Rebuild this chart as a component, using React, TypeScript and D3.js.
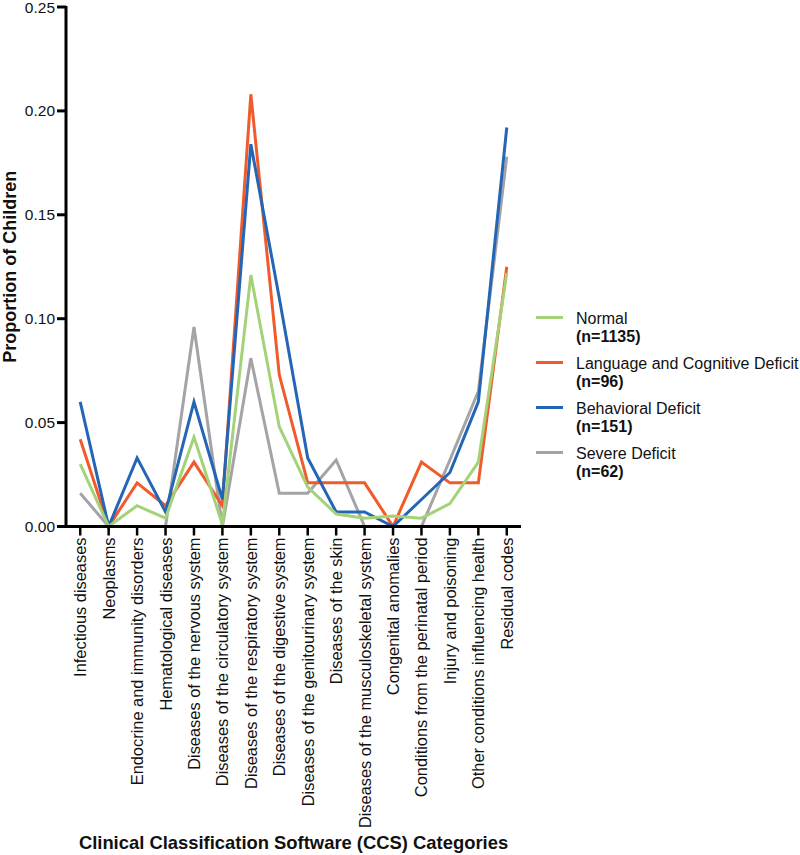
import React from "react";
import * as d3 from "d3";

const categories = [
  "Infectious diseases",
  "Neoplasms",
  "Endocrine and immunity disorders",
  "Hematological diseases",
  "Diseases of the nervous system",
  "Diseases of the circulatory system",
  "Diseases of the respiratory system",
  "Diseases of the digestive system",
  "Diseases of the genitourinary system",
  "Diseases of the skin",
  "Diseases of the musculoskeletal system",
  "Congenital anomalies",
  "Conditions from the perinatal period",
  "Injury and poisoning",
  "Other conditions influencing health",
  "Residual codes",
];

const normal = [0.030, 0.0, 0.010, 0.004, 0.043, 0.001, 0.121, 0.048, 0.019, 0.006, 0.004, 0.005, 0.004, 0.011, 0.031, 0.122];
const language = [0.042, 0.0, 0.021, 0.010, 0.031, 0.010, 0.208, 0.073, 0.021, 0.021, 0.021, 0.0, 0.031, 0.021, 0.021, 0.125];
const behavioral = [0.060, 0.0, 0.033, 0.007, 0.060, 0.013, 0.184, 0.110, 0.033, 0.007, 0.007, 0.0, 0.013, 0.026, 0.060, 0.192];
const severe = [0.016, 0.0, 0.0, 0.0, 0.096, 0.0, 0.081, 0.016, 0.016, 0.032, 0.0, 0.0, 0.0, 0.032, 0.065, 0.178];

const yTicks = [0, 0.05, 0.1, 0.15, 0.2, 0.25];

const seriesNames = ["Normal", "Language and Cognitive Deficit", "Behavioral Deficit", "Severe Deficit"];
const seriesCounts = ["(n=1135)", "(n=96)", "(n=151)", "(n=62)"];
const seriesValues = [normal, language, behavioral, severe];
const seriesColors = ["#a4d279", "#f15a2b", "#2465b6", "#a3a3a8"];
const drawOrder = [3, 1, 2, 0];

const FONT = "'Liberation Sans', Arial, sans-serif";

export default function App() {
  const W = 800;
  const H = 855;
  const x0 = 66;
  const x1 = 521;
  const yBottom = 526.5;
  const yTop = 7;

  const x = d3.scalePoint<string>().domain(categories).range([x0, x1]).padding(0.5);
  const y = d3.scaleLinear().domain([0, 0.25]).range([yBottom, yTop]);

  const line = d3
    .line<number>()
    .x((_, i) => x(categories[i]) as number)
    .y((d) => y(d));

  return (
    <svg
      width={W}
      height={H}
      style={{ position: "absolute", left: 0, top: 0, background: "#fff" }}
      fontFamily={FONT}
    >
      <rect x={0} y={0} width={W} height={H} fill="#fff" />
      {drawOrder.map((si) => (
        <path
          key={si}
          d={line(seriesValues[si]) || ""}
          fill="none"
          stroke={seriesColors[si]}
          strokeWidth={3}
          strokeLinejoin="miter"
        />
      ))}

      <line x1={x0} x2={x0} y1={yTop - 1} y2={yBottom + 1.5} stroke="#000" strokeWidth={3} />
      {yTicks.map((t) => (
        <g key={t}>
          <line x1={x0 - 9} x2={x0} y1={y(t)} y2={y(t)} stroke="#000" strokeWidth={3} />
          <text
            x={x0 - 11}
            y={y(t)}
            textAnchor="end"
            dominantBaseline="central"
            fontSize={15.5}
            fill="#111"
          >
            {t.toFixed(2)}
          </text>
        </g>
      ))}

      <line x1={x0 - 1.5} x2={x1} y1={yBottom} y2={yBottom} stroke="#000" strokeWidth={3} />
      {categories.map((c) => {
        const cx = x(c) as number;
        return (
          <g key={c}>
            <line x1={cx} x2={cx} y1={yBottom} y2={yBottom + 9} stroke="#000" strokeWidth={2.5} />
            <text
              transform={`translate(${cx + 6},${yBottom + 11}) rotate(-90)`}
              textAnchor="end"
              fontSize={16.4}
              fill="#111"
            >
              {c}
            </text>
          </g>
        );
      })}

      <text
        x={(x0 + x1) / 2}
        y={849}
        textAnchor="middle"
        fontSize={18.4}
        fontWeight="bold"
        fill="#111"
      >
        Clinical Classification Software (CCS) Categories
      </text>
      <text
        transform={`translate(15.5,${(yTop + yBottom) / 2}) rotate(-90)`}
        textAnchor="middle"
        fontSize={18}
        fontWeight="bold"
        fill="#111"
      >
        Proportion of Children
      </text>

      {seriesNames.map((name, i) => {
        const ly = 317.5 + i * 45;
        return (
          <g key={name}>
            <line x1={536} x2={563} y1={ly} y2={ly} stroke={seriesColors[i]} strokeWidth={3} />
            <text x={576} y={ly + 6} fontSize={16} fill="#111">
              {name}
            </text>
            <text x={576} y={ly + 24} fontSize={16} fontWeight="bold" fill="#111">
              {seriesCounts[i]}
            </text>
          </g>
        );
      })}
    </svg>
  );
}
